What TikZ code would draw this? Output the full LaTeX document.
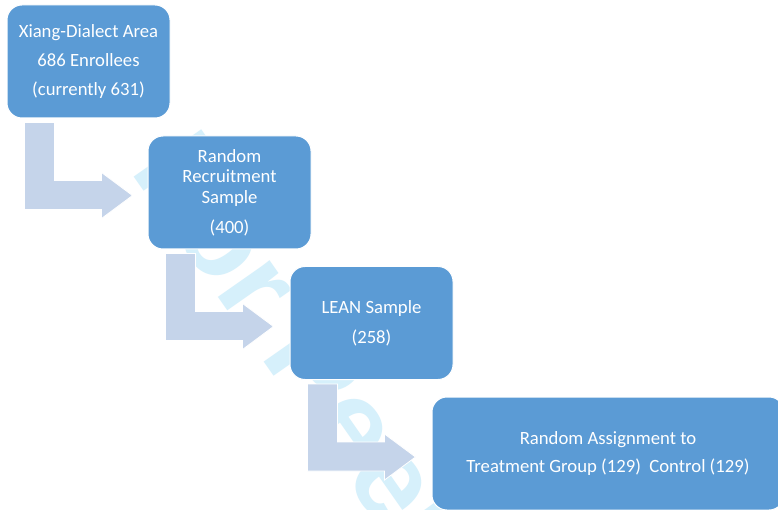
\documentclass[tikz,border=0pt]{standalone}
\usepackage{fontspec}
\setmainfont{Carlito}
\newfontfamily\wmfont{Liberation Sans}
\definecolor{boxblue}{RGB}{91,155,213}
\definecolor{arrowblue}{RGB}{197,212,234}
\definecolor{wmcyan}{RGB}{214,240,251}
\begin{document}
\begin{tikzpicture}[x=1pt,y=-1pt,
  stagebox/.style={draw=white, line width=1pt, fill=boxblue, rounded corners=15pt,
    minimum width=163pt, minimum height=113pt, text=white, align=center,
    font=\fontsize{18.7}{20.5}\selectfont, inner sep=0pt},
  bentarrow/.style={fill=arrowblue, draw=white, line width=0.8pt},
  watermark/.style={font=\wmfont\bfseries\fontsize{120}{120}\selectfont, text=wmcyan,
    rotate=-55, anchor=base west, inner sep=0pt}]
\useasboundingbox (0,0) rectangle (778,510);
\clip (0,0) rectangle (778,510);
\fill[white] (0,0) rectangle (778,510);
\node[watermark] (wm) at (129,170) {For Peer Review};
\node[stagebox] (b1) at (88.5,61.5) {Xiang-Dialect Area\\[8.5pt]686 Enrollees\\[8.5pt](currently 631)};
\node[stagebox] (b2) at (229.5,192.5) {Random\\Recruitment\\Sample\\[9.5pt](400)};
\node[stagebox] (b3) at (371.5,323) {LEAN Sample\\[9.5pt](258)};
\node[stagebox, minimum width=352pt] (b4) at (608,453.5) {Random Assignment to\\[7.5pt]Treatment Group (129)\ \ Control (129)};
\foreach \a in {b1,b2,b3} {
  \draw[bentarrow] ([shift={(18,4)}]\a.south west) -- ++(30,0) -- ++(0,58) -- ++(47,0)
    -- ++(0,-8) -- ++(31,23) -- ++(-31,23) -- ++(0,-9) -- ++(-77,0) -- cycle;
}
\end{tikzpicture}
\end{document}
